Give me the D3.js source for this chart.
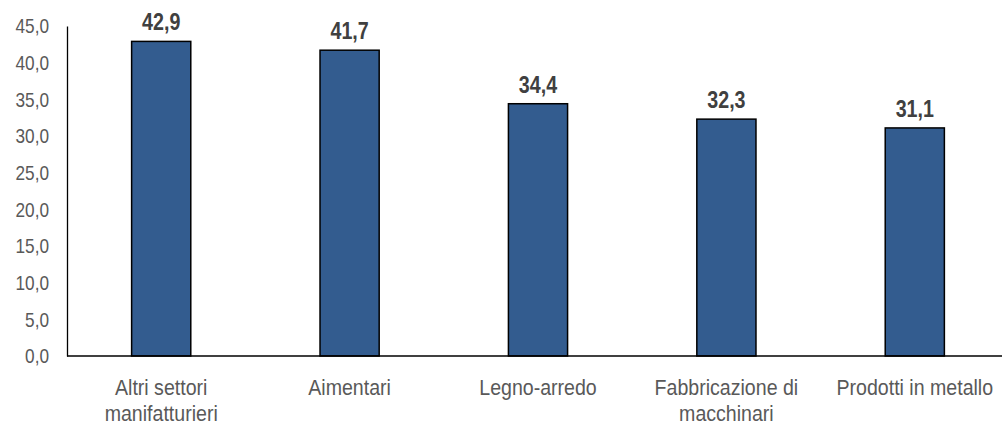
<!DOCTYPE html>
<html><head><meta charset="utf-8">
<script src="https://cdn.jsdelivr.net/npm/d3@7"></script>
<style>body{margin:0;background:#fff}svg{display:block}</style>
</head><body>
<svg id="c" width="1002" height="427"></svg>
<script>
const categories = [["Altri settori","manifatturieri"],["Aimentari"],["Legno-arredo"],["Fabbricazione di","macchinari"],["Prodotti in metallo"]];
const values = [42.9, 41.7, 34.4, 32.3, 31.1];
const yTicks = [0,5,10,15,20,25,30,35,40,45];

const svg = d3.select("#c");
const font = "'Liberation Sans',Arial,sans-serif";
const SX = 0.82; // narrow (Arial Narrow-like) horizontal compression
const x0 = 67, x1 = 1009, yBase = 356, yTop = 26;
const x = d3.scaleBand().domain(d3.range(values.length)).range([x0, x1]).paddingInner(0.686).paddingOuter(0.343);
const y = d3.scaleLinear().domain([0,45]).range([yBase, yTop]);
const fmt = d => d3.format(".1f")(d).replace(".", ",");

// y axis
const pad = 18;
const ya = svg.append("g").attr("transform", `translate(${x0},0)`)
  .call(d3.axisLeft(y).tickValues(yTicks).tickSize(0).tickPadding(pad).tickFormat(fmt));
ya.select(".domain").attr("stroke", "#000").attr("stroke-width", 1.3);
ya.selectAll("text").attr("font-family", font).attr("font-size", 21).attr("fill", "#595959")
  .attr("x", -pad / SX).attr("transform", `scale(${SX},1)`);

// bars
svg.selectAll("rect.bar").data(values).join("rect")
  .attr("x", (d,i) => x(i)).attr("width", x.bandwidth())
  .attr("y", d => y(d)).attr("height", d => yBase - y(d))
  .attr("fill", "#335C8F").attr("stroke", "#000").attr("stroke-width", 1.5);

// baseline
svg.append("line").attr("x1", x0).attr("x2", 1002).attr("y1", yBase).attr("y2", yBase).attr("stroke", "#000").attr("stroke-width", 1.3);

// value labels
svg.selectAll("g.val").data(values).join("g")
  .attr("transform", (d,i) => `translate(${x(i) + x.bandwidth()/2},${y(d) - 11})`)
  .append("text").attr("transform", `scale(${SX},1)`)
  .attr("text-anchor", "middle").attr("font-family", font).attr("font-weight", "bold")
  .attr("font-size", 24).attr("fill", "#404040")
  .text(d => fmt(d));

// category labels
const CSX = 0.87;
const cl = svg.selectAll("g.cat").data(categories).join("g")
  .attr("transform", (d,i) => `translate(${x(i) + x.bandwidth()/2},395)`)
  .append("text").attr("transform", `scale(${CSX},1)`)
  .attr("text-anchor", "middle").attr("font-family", font).attr("font-size", 22.5).attr("fill", "#595959");
cl.each(function(lines) {
  const t = d3.select(this);
  lines.forEach((ln, j) => {
    t.append("tspan").attr("x", 0).attr("y", j*26).text(ln);
  });
});
</script>
</body></html>
